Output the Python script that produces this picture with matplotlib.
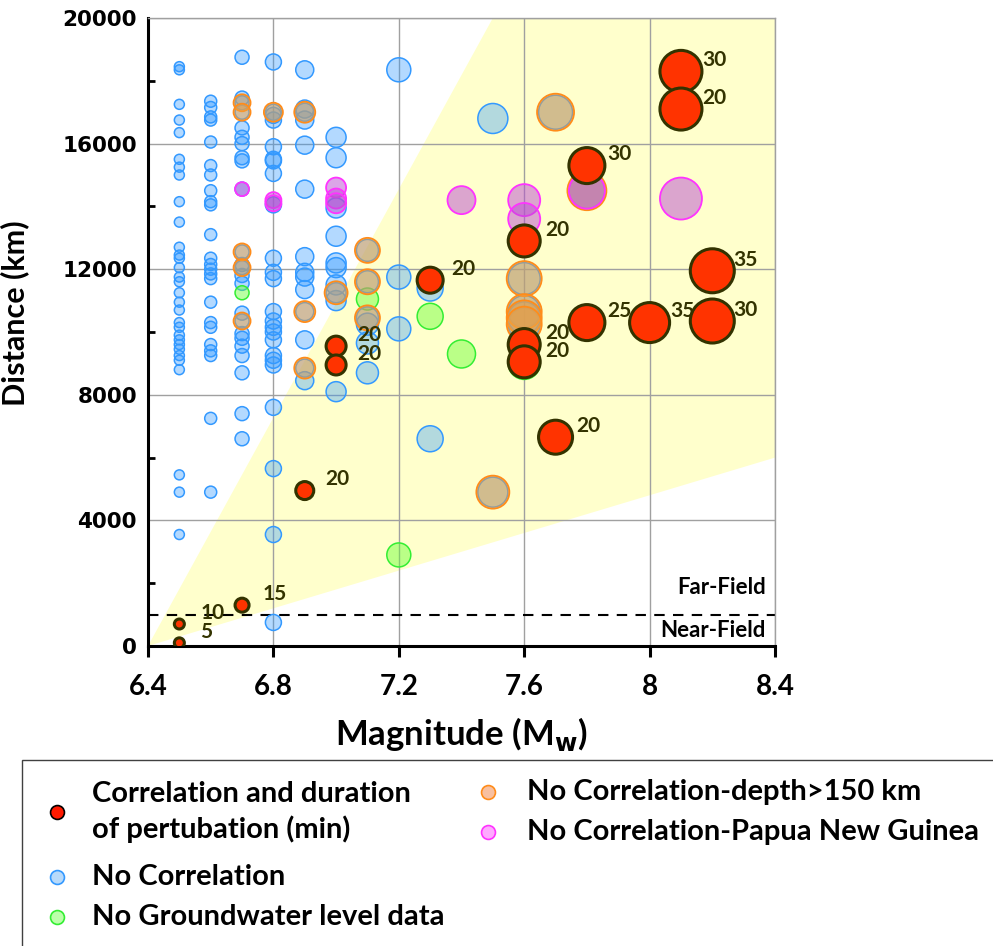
import numpy as np
import matplotlib.pyplot as plt
from matplotlib.lines import Line2D
from matplotlib.patches import Rectangle

plt.rcParams['font.family'] = ['Lato', 'DejaVu Sans']

# distances (km) of events grouped by magnitude (Mw)
no_corr = {
    6.5: [18450, 18350, 17250, 16750, 16350, 15500, 15250, 15000, 14150, 13500, 12700, 12450, 12350,
          12050, 11750, 11600, 11250, 10950, 10700, 10300, 10150, 9900, 9750, 9600, 9450, 9250, 9100,
          8800, 5450, 4900, 3550],
    6.6: [17350, 17150, 16850, 16750, 16050, 15300, 15000, 14500, 14150, 14050, 13100, 12350, 12150,
          12000, 11850, 11700, 10950, 10300, 10150, 9600, 9400, 9250, 7250, 4900],
    6.7: [18750, 17450, 16500, 16200, 16000, 15550, 15450, 14550, 12150, 11800, 11550, 10600, 9950,
          9800, 9550, 9250, 8700, 7400, 6600],
    6.8: [18600, 16900, 16750, 15900, 15500, 15450, 15050, 14050, 12350, 11900, 11700, 10650, 10350,
          10150, 10000, 9750, 9250, 9100, 8950, 7600, 5650, 3550, 750],
    6.9: [18350, 17100, 16750, 15950, 14550, 12400, 11900, 11750, 11350, 9750, 8450],
    7.0: [16200, 15550, 13950, 13050, 12200, 12050, 11500, 11000, 8100],
    7.1: [10250, 9650, 8700],
    7.2: [18350, 11750, 10100],
    7.3: [11400, 6600],
    7.5: [16800],
}
no_gw = {6.7: [11250], 7.1: [11050], 7.2: [2900], 7.3: [10500], 7.4: [9300], 7.6: [9000]}
deep = {6.7: [17300, 17000, 12550, 12050, 10350], 6.8: [17000], 6.9: [17000, 10650, 8850],
        7.0: [11250], 7.1: [12600, 11600, 10450], 7.5: [4900], 7.6: [11700, 10650, 10450, 10250],
        7.7: [17000], 7.8: [14500]}
png = {6.7: [14550], 6.8: [14200, 14100], 7.0: [14600, 14250, 14100], 7.4: [14200],
       7.6: [14200, 13600], 7.8: [14500], 8.1: [14250]}

corr_mw = [6.5, 6.5, 6.7, 6.9, 7.0, 7.0, 7.3, 7.6, 7.6, 7.6, 7.7, 7.8, 7.8, 8.0, 8.1, 8.1, 8.2, 8.2]
corr_km = [100, 700, 1300, 4950, 9550, 8950, 11650, 12900, 9600, 9050, 6650, 15300, 10300, 10300,
           18300, 17100, 11950, 10350]
corr_min = [5, 10, 15, 20, 20, 20, 20, 20, 20, 20, 20, 30, 25, 35, 30, 20, 35, 30]

shade_mw = [6.4, 7.5, 8.4, 8.4]
shade_km = [0, 20000, 20000, 6000]
field_limit = 1000

xtick_vals = [6.4, 6.8, 7.2, 7.6, 8.0, 8.4]
xtick_labels = ['6.4', '6.8', '7.2', '7.6', '8', '8.4']
ytick_vals = [0, 4000, 8000, 12000, 16000, 20000]


def flatten(d):
    mw, km = [], []
    for m, vals in d.items():
        mw += [m] * len(vals)
        km += vals
    return np.array(mw), np.array(km)


def msize(mw, extra=0.0):
    r = 5 + 10 * (np.asarray(mw) - 6.5) + extra
    return (2 * r * 0.72) ** 2


fig = plt.figure(figsize=(9.93, 9.46), dpi=100)
ax = fig.add_axes([148/993, 1-646/946, (775-148)/993, (646-18)/946])

ax.fill(shade_mw, shade_km, color='#FFFFCC', lw=0, zorder=0)

blue = dict(facecolor=(0.2, 0.6, 1.0, 0.37), edgecolor='#3399FF', linewidths=1.1)

m, d = flatten(no_corr)
ax.scatter(m, d, s=msize(m), zorder=2, **blue)

m, d = flatten(no_gw)
ax.scatter(m, d, s=msize(m), facecolor=(0.4, 1.0, 0.2, 0.45), edgecolor='#33EE33', linewidths=1.1, zorder=3)

m, d = flatten(deep)
ax.scatter(m, d, s=msize(m), zorder=3, **blue)
ax.scatter(m, d, s=msize(m, 1.5), facecolor=(0.94, 0.63, 0.25, 0.5), edgecolor='#FF8C1A', linewidths=1.3, zorder=4)

m, d = flatten(png)
ax.scatter(m, d, s=msize(m), facecolor=(0.72, 0.3, 0.82, 0.5), edgecolor='#FF33FF', linewidths=1.3, zorder=5)

ax.scatter(corr_mw, corr_km, s=msize(corr_mw), facecolor='#FF3300', edgecolor='#333300', linewidths=2.2, zorder=6)
for mw, km, t in zip(corr_mw, corr_km, corr_min):
    ax.annotate(str(t), (mw, km), xytext=(15, 8), textcoords='offset points', ha='left', va='center',
                fontsize=15, fontweight='bold', color='#333300', zorder=7)

ax.axhline(field_limit, color='black', lw=1.5, ls=(0, (5, 4)), zorder=1)
ax.text(8.37, 1850, 'Far-Field', ha='right', va='center', fontsize=16, fontweight='bold')
ax.text(8.37, 500, 'Near-Field', ha='right', va='center', fontsize=16, fontweight='bold')

ax.set_xlim(6.4, 8.4)
ax.set_ylim(0, 20000)
ax.set_xticks(xtick_vals)
ax.set_xticklabels(xtick_labels)
ax.set_yticks(ytick_vals)
ax.set_yticks(np.arange(2000, 20000, 4000), minor=True)
ax.grid(True, which='major', color='#A0A0A0', lw=1, zorder=0.5)
ax.set_axisbelow(True)

ax.tick_params(axis='x', direction='out', length=8, width=2.2, pad=12, labelsize=20)
ax.tick_params(axis='y', which='major', length=0, pad=8)
ax.tick_params(axis='y', which='minor', direction='in', length=5, width=2)
for lbl in ax.get_xticklabels():
    lbl.set_fontweight('bold')
for lbl in ax.get_yticklabels():
    lbl.set_fontfamily('DejaVu Sans')
    lbl.set_fontweight('bold')
    lbl.set_fontsize(15.5)

for s in ['left', 'bottom']:
    ax.spines[s].set_linewidth(2.2)
    ax.spines[s].set_color('black')
for s in ['top', 'right']:
    ax.spines[s].set_linewidth(1)
    ax.spines[s].set_color('#A0A0A0')

ax.set_xlabel('Magnitude (M$_\\mathbf{w}$)', fontsize=25, fontweight='bold')
ax.xaxis.set_label_coords(0.5, -0.11)
ax.set_ylabel('Distance (km)', fontsize=22, fontweight='bold')
ax.yaxis.set_label_coords(-0.19, 0.53)

# legend box
fig.add_artist(Rectangle((22/993, -0.01), 1.0, (946-760)/946 + 0.01, transform=fig.transFigure,
                         fill=False, edgecolor='#404040', lw=1))

def legend_item(x, y, fc, ec, text, tx):
    fig.add_artist(Line2D([x/993], [1 - y/946], transform=fig.transFigure, marker='o', markersize=10,
                          markerfacecolor=fc, markeredgecolor=ec, markeredgewidth=1.2, ls='none'))
    fig.text(tx/993, 1 - y/946, text, ha='left', va='center', fontsize=21, fontweight='bold',
             linespacing=1.38)

legend_item(57, 812, '#FF1A00', 'black', 'Correlation and duration\nof pertubation (min)', 92)
legend_item(57, 877, '#B8DAFA', '#3399FF', 'No Correlation', 92)
legend_item(57, 917, '#BBFFAA', '#33EE33', 'No Groundwater level data', 92)
legend_item(488, 792, '#F8C0A0', '#FF8C1A', 'No Correlation-depth>150 km', 527)
legend_item(488, 832, '#FFAAFF', '#FF33FF', 'No Correlation-Papua New Guinea', 527)

fig.savefig('out.png', dpi=100)
